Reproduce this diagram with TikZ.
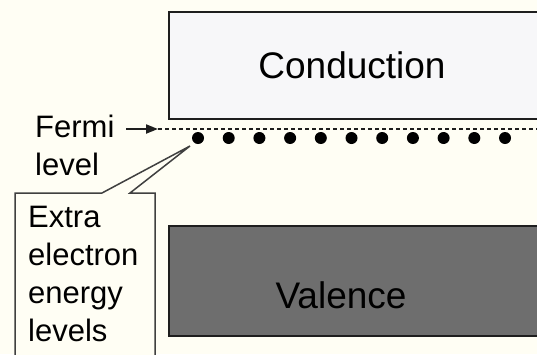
\documentclass[tikz,border=0pt]{standalone}
\usepackage{fontspec}
\setmainfont{Liberation Sans}
\usetikzlibrary{arrows.meta}
\definecolor{paper}{HTML}{FFFEF4}
\definecolor{condfill}{HTML}{F7F7F9}
\definecolor{valfill}{HTML}{6E6E6E}
\definecolor{ink}{HTML}{1E1E1E}
\tikzset{
  band/.style={draw=ink, line width=2pt, anchor=north west, inner sep=0pt},
  bandlabel/.style={anchor=base, inner sep=0pt, font=\fontsize{37}{44}\selectfont},
  smalllabel/.style={anchor=base west, inner sep=0pt, font=\fontsize{31}{38}\selectfont},
  electron/.style={circle, fill=black, minimum size=12pt, inner sep=0pt},
  fermiline/.style={draw=ink, line width=1.4pt, dash pattern=on 4pt off 3pt},
  calloutline/.style={draw=ink!85, line width=1.5pt, line join=miter}
}
\begin{document}
\begin{tikzpicture}[x=1pt,y=-1pt]
\useasboundingbox (0,0) rectangle (537,354);
\fill[paper] (0,0) rectangle (537,354);
\begin{scope}
\clip (0,0) rectangle (537,354);
% energy bands
\node[band, fill=condfill, minimum width=390pt, minimum height=107pt] (cond) at (168,11) {};
\node[band, fill=valfill, minimum width=390pt, minimum height=110pt] (val) at (168,225) {};
\node[bandlabel] (condtext) at (352,78) {Conduction};
\node[bandlabel] (valtext) at (341,308) {Valence};
% Fermi level
\node[smalllabel] (fermi) at (35,137) {Fermi};
\node[smalllabel] (level) at (35,175) {level};
\coordinate (ftail) at (126,129);
\coordinate (fstart) at (158,129);
\coordinate (fend) at (540,129);
\draw[line width=2pt, ink, -{Triangle[length=12pt,width=9pt]}] (ftail) -- (fstart);
\draw[fermiline] (fstart) -- (fend);
% donor levels
\foreach \i in {0,...,10}
  \node[electron] (e\i) at ({198+30.7*\i},138) {};
% callout box
\coordinate (tip) at (190,146);
\draw[calloutline, fill=paper] (15,362) -- (15,193) -- (102,193) -- (tip) -- (130,193) -- (155,193) -- (155,362);
\node[smalllabel] (l1) at (28,227) {Extra};
\node[smalllabel] (l2) at (28,265) {electron};
\node[smalllabel] (l3) at (28,303) {energy};
\node[smalllabel] (l4) at (28,341) {levels};
\end{scope}
\end{tikzpicture}
\end{document}
